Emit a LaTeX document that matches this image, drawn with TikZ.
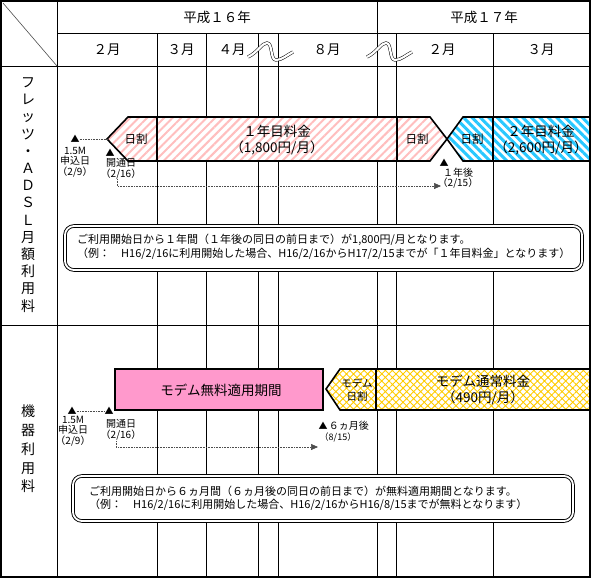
\documentclass[tikz,border=0pt]{standalone}
\usepackage{fontspec}
\setmainfont{Noto Sans CJK JP}
\usetikzlibrary{positioning,patterns.meta,arrows.meta}

\definecolor{pinkstripe}{RGB}{255,190,190}
\definecolor{bluestripe}{RGB}{40,200,255}
\definecolor{yellowstripe}{RGB}{255,204,0}
\definecolor{modempink}{RGB}{255,153,204}

\tikzset{
  waku/.style={line width=1pt},
  obi/.style={draw,line width=1.6pt,line join=miter},
  pinkobi/.style={obi,preaction={fill=white},pattern={Lines[angle=45,distance=6pt,line width=2pt]},pattern color=pinkstripe},
  blueobi/.style={obi,preaction={fill=white},pattern={Lines[angle=-45,distance=6pt,line width=3pt]},pattern color=bluestripe},
  yellowobi/.style={obi,preaction={fill=white},pattern={Hatch[angle=45,distance=5pt,line width=0.9pt]},pattern color=yellowstripe},
  modemobi/.style={obi,fill=modempink},
  midasi/.style={font=\fontsize{13.5}{15}\selectfont,inner sep=0pt},
  obimoji/.style={font=\fontsize{13.5}{16}\selectfont,align=center,inner sep=0pt},
  hiwari/.style={font=\fontsize{11.5}{13}\selectfont,align=center,inner sep=0pt},
  sankaku/.style={font=\fontsize{9}{9}\selectfont,inner sep=0pt},
  chu/.style={font=\fontsize{10}{10.5}\selectfont,align=center,inner sep=0pt},
  tensen/.style={densely dotted,line width=0.6pt,black!70},
  yajirusi/.style={tensen,-{Triangle[length=7pt,width=6pt]}},
  kakomi/.style={draw,double,double distance=1.8pt,line width=0.9pt,rounded corners=9pt,fill=white},
  setumei/.style={font=\fontsize{11}{13}\selectfont,anchor=west,inner sep=0pt},
  tate/.style={align=center,inner sep=0pt},
  nami/.style={draw,double,double distance=2.2pt,line width=0.5pt},
}

\begin{document}
\begin{tikzpicture}[x=1pt,y=-1pt]
  \useasboundingbox (0,0) rectangle (592,579);
  % 表の罫線
  \draw[waku] (57,33) -- (590,33);
  \draw[waku] (1,66) -- (590,66);
  \draw[waku] (1,325) -- (590,325);
  \draw[waku] (57,1) -- (57,577);
  \draw[waku] (377,1) -- (377,577);
  \foreach \x in {157,206,258,278,396,493}
    \draw[waku] (\x,33) -- (\x,577);
  \draw[line width=0.6pt,black!70] (3,3) -- (57,66);
  \draw[line width=2pt] (1,1) rectangle (590,577);
  % 省略の波線
  \foreach \dx in {0,119}
    \draw[nami,xshift=\dx pt] (248,57) .. controls (258,52) and (262,43) .. (267,43)
      .. controls (273,43) and (270,60) .. (276,60) .. controls (282,60) and (287,55) .. (293,52);

  % 見出し
  \node[midasi] (h16) at (217,17) {平成１６年};
  \node[midasi] (h17) at (484,17) {平成１７年};
  \node[midasi] (feb1) at (107,50) {２月};
  \node[midasi] (mar1) at (181,50) {３月};
  \node[midasi] (apr1) at (232,50) {４月};
  \node[midasi] (aug1) at (327,50) {８月};
  \node[midasi] (feb2) at (442,50) {２月};
  \node[midasi] (mar2) at (541,50) {３月};
  \node[tate,font=\fontsize{14}{17.2}\selectfont] (adsl) at (28,195)
    {フ\\レ\\ッ\\ツ\\・\\Ａ\\Ｄ\\Ｓ\\Ｌ\\月\\額\\利\\用\\料};
  \node[tate,font=\fontsize{14}{18.75}\selectfont] (kiki) at (28,449)
    {機\\器\\利\\用\\料};

  % フレッツ・ADSL月額利用料
  \coordinate (tip1) at (107,139);
  \draw[pinkobi] (tip1) -- (128,117) -- (157,117) -- (157,161) -- (128,161) -- cycle;
  \node[hiwari] (hiwari1) at (136,139) {日割};
  \draw[pinkobi] (157,117) rectangle (397,161);
  \node[obimoji] (ryokin1) at (277,140) {１年目料金\\（1,800円/月）};
  \draw[pinkobi] (397,117) -- (430,117) -- (447,139) -- (430,161) -- (397,161) -- cycle;
  \node[hiwari] (hiwari2) at (417,139) {日割};
  \draw[blueobi] (447,139) -- (463,117) -- (493,117) -- (493,161) -- (463,161) -- cycle;
  \node[hiwari] (hiwari3) at (472,139) {日割};
  \draw[blueobi] (493,117) rectangle (590,161);
  \node[obimoji] (ryokin2) at (541,140) {２年目料金\\（2,600円/月）};

  \node[sankaku] (mos1) at (75,139) {▲};
  \node[chu] (mos1t) at (75,162) {1.5M\\申込日\\（2/9）};
  \draw[tensen] (mos1) -- (tip1);
  \node[sankaku] (kai1) at (110,153) {▲};
  \node[chu] (kai1t) at (121,169) {開通日\\（2/16）};
  \node[sankaku] (ato1) at (444,163) {▲};
  \node[chu] (ato1t) at (458,178) {１年後\\（2/15）};
  \coordinate (yaji1) at (441,186);
  \draw[yajirusi] (117,179) |- (yaji1);

  \draw[kakomi] (65,226) rectangle (582,270);
  \node[setumei] (setu1a) at (77,240) {ご利用開始日から１年間（１年後の同日の前日まで）が1,800円/月となります。};
  \node[setumei] (setu1b) at (77,254) {（例：　H16/2/16に利用開始した場合、H16/2/16からH17/2/15までが「１年目料金」となります）};

  % 機器利用料
  \draw[modemobi] (115,369) rectangle (323,410);
  \node[obimoji] (muryo) at (221,390) {モデム無料適用期間};
  \draw[yellowobi] (326,389) -- (340,369) -- (376,369) -- (376,410) -- (340,410) -- cycle;
  \node[hiwari,font=\fontsize{10.5}{13}\selectfont] (hiwari4) at (357,390) {モデム\\日割};
  \draw[yellowobi] (376,369) rectangle (590,410);
  \node[obimoji] (tujo) at (483,390) {モデム通常料金\\（490円/月）};

  \node[sankaku] (mos2) at (72,411) {▲};
  \node[chu] (mos2t) at (73,431) {1.5M\\申込日\\（2/9）};
  \node[sankaku] (kai2) at (109,411) {▲};
  \draw[tensen] (mos2) -- (kai2);
  \node[chu] (kai2t) at (121,430) {開通日\\（2/16）};
  \node[sankaku] (ato2) at (323,426) {▲};
  \node[chu,right=1pt of ato2] (ato2t) {６ヵ月後};
  \node[chu,font=\fontsize{9}{10}\selectfont] (ato2d) at (338,437) {（8/15）};
  \coordinate (yaji2) at (318,447);
  \draw[yajirusi] (116,441) |- (yaji2);

  \draw[kakomi] (73,476) rectangle (573,521);
  \node[setumei] (setu2a) at (89,491) {ご利用開始日から６ヵ月間（６ヵ月後の同日の前日まで）が無料適用期間となります。};
  \node[setumei] (setu2b) at (89,505) {（例：　H16/2/16に利用開始した場合、H16/2/16からH16/8/15までが無料となります）};
\end{tikzpicture}
\end{document}
